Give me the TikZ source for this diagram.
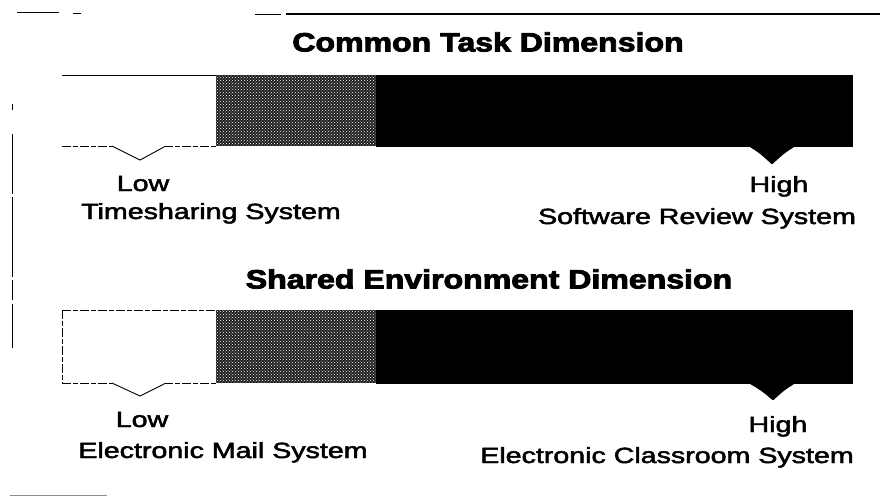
\documentclass[tikz,border=0pt]{standalone}
\usepackage{fontspec}
\usepackage{graphicx}
\setmainfont{Liberation Sans}
\newfontfamily\labelfont[FakeBold=2]{Liberation Sans}
\newfontfamily\heavyfont[FakeBold=3]{Liberation Sans Bold}
\usetikzlibrary{patterns}

% horizontally widened text, as in the printed figure
\newcommand{\wtext}[1]{\scalebox{1.3}[1]{#1}}
\newcommand{\wtitle}[1]{\scalebox{1.21}[1]{#1}}

\tikzset{
  label/.style={inner sep=0pt, font=\labelfont\fontsize{22}{26}\selectfont},
  headline/.style={inner sep=0pt, font=\heavyfont\fontsize{26.5}{30}\selectfont},
  edge/.style={line width=0.9pt},
  faint/.style={line width=0.8pt, dash pattern=on 9pt off 2pt on 5pt off 2pt},
  hatchseg/.style={fill=black!88, postaction={pattern=crosshatch dots, pattern color=white}},
  solidseg/.style={fill=black},
  pointer/.style={fill=black, draw=black, line width=0.6pt, line join=round}
}

\begin{document}
\begin{tikzpicture}[x=1pt, y=-1pt]
  \useasboundingbox (0,0) rectangle (880,496);
  \fill[white] (0,0) rectangle (880,496);

  % frame remnants
  \draw[line width=1pt] (17,12) -- (59,12);
  \draw[line width=0.8pt] (73,13) -- (81,13);
  \draw[line width=0.9pt] (255,14) -- (281,14);
  \draw[line width=1.1pt] (286,14) -- (880,14);
  \draw[line width=0.9pt] (12,104) -- (12,110);
  \draw[line width=1pt, dash pattern=on 60pt off 3pt on 80pt off 3pt on 20pt off 4pt] (12,134) -- (12,348);
  \draw[black!45, line width=1pt] (10,495) -- (107,495);

  % ---------- Common Task Dimension ----------
  \node[headline] (t1) at (488,42) {\wtitle{Common Task Dimension}};

  \coordinate (b1a) at (62,75);
  \coordinate (b1b) at (216,75);
  \fill[hatchseg] (216,75) rectangle (376,146);
  \fill[solidseg] (376,75) rectangle (853,147);
  \draw[edge] (b1a) -- (b1b);
  \draw[faint] (62,146) -- (112,146);
  \draw[edge] (112,146) -- (140,160) -- (164,147);
  \draw[faint] (164,146) -- (216,146);
  \fill[pointer] (749,146) .. controls (760,153) .. (772,164) .. controls (784,153) .. (795,146) -- cycle;

  \node[label, anchor=base] (low1) at (143,191) {\wtext{Low}};
  \node[label, anchor=base] (sys1) at (211,219) {\wtext{Timesharing System}};
  \node[label, anchor=base] (high1) at (779,192) {\wtext{High}};
  \node[label, anchor=base] (sys2) at (697,224) {\wtext{Software Review System}};

  % ---------- Shared Environment Dimension ----------
  \node[headline] (t2) at (489,279) {\wtitle{Shared Environment Dimension}};

  \fill[hatchseg] (216,310) rectangle (376,383);
  \fill[solidseg] (376,310) rectangle (853,384);
  \draw[faint] (62,310) -- (216,310);
  \draw[faint] (62,310) -- (62,383);
  \draw[faint] (62,383) -- (112,383);
  \draw[edge] (112,383) -- (140,396) -- (164,384);
  \draw[faint] (164,383) -- (216,383);
  \fill[pointer] (749,383) .. controls (761,390) .. (773,400) .. controls (784,390) .. (795,383) -- cycle;

  \node[label, anchor=base] (low2) at (142,427) {\wtext{Low}};
  \node[label, anchor=base] (sys3) at (223,458) {\wtext{Electronic Mail System}};
  \node[label, anchor=base] (high2) at (778,432) {\wtext{High}};
  \node[label, anchor=base] (sys4) at (667,463) {\wtext{Electronic Classroom System}};
\end{tikzpicture}
\end{document}
